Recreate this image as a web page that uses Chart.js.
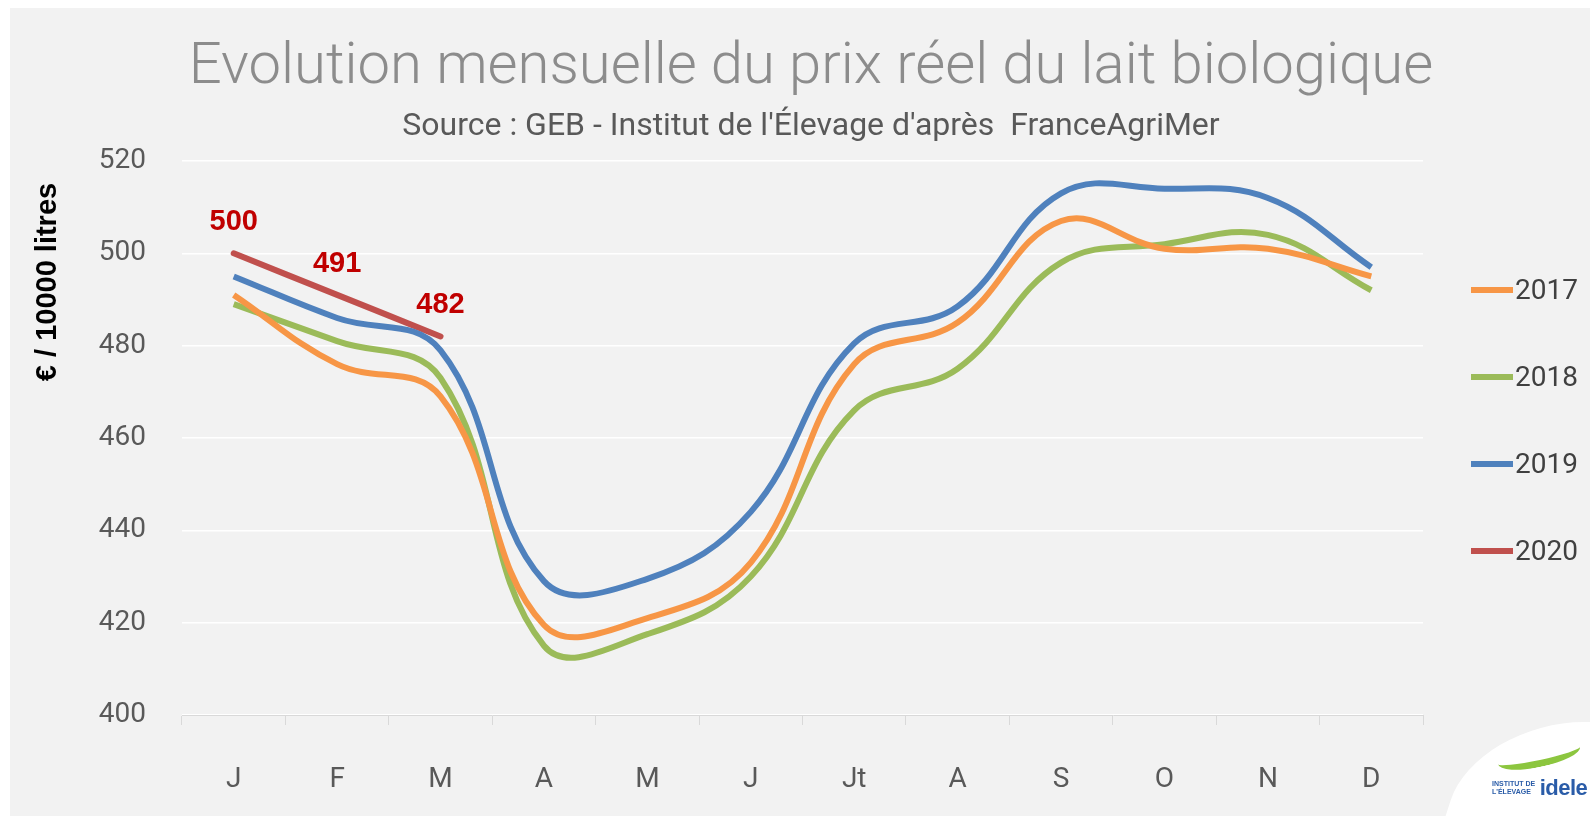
<!DOCTYPE html>
<html lang="fr">
<head>
<meta charset="utf-8">
<title>Evolution mensuelle du prix réel du lait biologique</title>
<script src="https://cdn.jsdelivr.net/npm/chart.js@4/dist/chart.umd.min.js"></script>
<style>
    html, body { margin: 0; padding: 0; background: #ffffff; }
    body { width: 1590px; height: 829px; position: relative; overflow: hidden; font-family: Roboto, "Noto Sans", sans-serif; }
    .panel { position: absolute; left: 10px; top: 8px; width: 1580px; height: 808px; background: #f2f2f2; }
    #chart { position: absolute; left: 0; top: 0; }
    .legend { position: absolute; left: 1471px; top: 274px; margin: 0; padding: 0; list-style: none; }
    .legend li { height: 87px; display: flex; align-items: flex-start; font-size: 28px; color: #404040; line-height: 32px; }
    .legend span.mark { display: inline-block; width: 42px; height: 6px; margin-top: 13px; margin-right: 2px; }
    .logo { position: absolute; left: 1455px; top: 722px; width: 180px; height: 130px; background: #ffffff; border-radius: 60% 0 0 0; transform: skewX(-18deg); }
    .logo-text { position: absolute; left: 1492px; top: 775px; font-family: "Liberation Sans", Arial, sans-serif; color: #2a5ca8; white-space: nowrap; }
    .logo-text .small { font-size: 7px; font-weight: bold; line-height: 8px; display: inline-block; vertical-align: middle; }
    .logo-text .big { font-size: 22px; font-weight: bold; vertical-align: middle; letter-spacing: -0.5px; }
    .swoosh { position: absolute; left: 1497px; top: 744px; width: 84px; height: 16px; border-radius: 50%; border-bottom: 7px solid #8cc63f; transform: rotate(-12deg); }
</style>
</head>
<body>
<div class="panel">
    <canvas id="chart" width="1580" height="808"></canvas>
</div>
<ul class="legend" id="legend"></ul>
<div class="logo"></div>
<div class="swoosh"></div>
<div class="logo-text"><span class="small">INSTITUT DE<br>L'ÉLEVAGE</span> <span class="big">idele</span></div>

<script>
// Données (€ / 10000 litres)
const months = ['J', 'F', 'M', 'A', 'M', 'J', 'Jt', 'A', 'S', 'O', 'N', 'D'];
const prix2017 = [491, 476, 469, 419.5, 421, 433, 476, 485, 507, 501, 501, 495];
const prix2018 = [489, 481, 473, 415, 417.5, 430, 466, 475, 498, 502, 504, 492];
const prix2019 = [495, 486, 479, 429, 429.5, 444, 480.5, 488.5, 513, 514, 512, 497];
const prix2020 = [500, 491, 482];

const yTicks = [400, 420, 440, 460, 480, 500, 520];
const yTitle = '€ / 10000 litres';

// Étiquettes de valeurs pour la série 2020
const valueLabels = {
    id: 'valueLabels',
    afterDatasetsDraw(chart) {
        const ctx = chart.ctx;
        const meta = chart.getDatasetMeta(3);
        ctx.save();
        ctx.font = 'bold 29px "Liberation Sans", Arial, sans-serif';
        ctx.fillStyle = '#c00000';
        ctx.textAlign = 'center';
        ctx.textBaseline = 'middle';
        meta.data.forEach((pt, i) => {
            ctx.fillText(String(prix2020[i]), pt.x, pt.y - 31);
        });
        ctx.restore();
    }
};

// Titre de l'axe vertical (placé vers le haut comme dans l'original)
const axisTitle = {
    id: 'axisTitle',
    afterDraw(chart) {
        const ctx = chart.ctx;
        ctx.save();
        ctx.translate(38, 274);
        ctx.rotate(-Math.PI / 2);
        ctx.font = 'bold 29px "Liberation Sans", Arial, sans-serif';
        ctx.fillStyle = '#000000';
        ctx.textAlign = 'center';
        ctx.textBaseline = 'middle';
        ctx.fillText(yTitle, 0, 0);
        ctx.restore();
    }
};

const ctx = document.getElementById('chart');

const chart = new Chart(ctx, {
    type: 'line',
    data: {
        labels: months,
        datasets: [
            { label: '2017', data: prix2017, borderColor: '#f79646' },
            { label: '2018', data: prix2018, borderColor: '#9bbb59' },
            { label: '2019', data: prix2019, borderColor: '#4f81bd' },
            { label: '2020', data: prix2020, borderColor: '#c0504d', borderCapStyle: 'round' }
        ]
    },
    options: {
        responsive: false,
        animation: false,
        layout: { padding: { top: 0, right: 0, bottom: 0, left: 22 } },
        elements: {
            line: { borderWidth: 6, tension: 0.4, fill: false },
            point: { radius: 0, hoverRadius: 0 }
        },
        plugins: {
            legend: { display: false },
            tooltip: { enabled: false },
            title: {
                display: true,
                text: 'Evolution mensuelle du prix réel du lait biologique',
                color: '#8c8c8c',
                font: { family: 'Roboto', size: 58, weight: '300' },
                padding: { top: 26, bottom: 4 }
            },
            subtitle: {
                display: true,
                text: "Source : GEB - Institut de l'Élevage d'après  FranceAgriMer",
                color: '#595959',
                font: { family: 'Roboto', size: 32, weight: '400' },
                padding: { top: 0, bottom: 15 }
            }
        },
        scales: {
            x: {
                offset: true,
                grid: {
                    offset: true,
                    drawOnChartArea: false,
                    drawTicks: true,
                    tickLength: 10,
                    color: '#d9d9d9'
                },
                border: { color: '#d9d9d9', width: 1 },
                ticks: {
                    color: '#595959',
                    font: { family: 'Roboto', size: 28 },
                    padding: 38,
                    maxRotation: 0
                },
                afterFit(scale) { scale.height = 101; }
            },
            y: {
                min: 400,
                max: 520,
                afterBuildTicks(scale) {
                    scale.ticks = yTicks.map(v => ({ value: v }));
                },
                grid: { color: '#ffffff', lineWidth: 1.5, drawTicks: false },
                border: { display: false },
                ticks: {
                    color: '#595959',
                    font: { family: 'Roboto', size: 28 },
                    padding: 36
                },
                afterFit(scale) { scale.width = 150; }
            },
            // axe vide à droite : réserve la place de la légende
            legendSpace: {
                type: 'linear',
                position: 'right',
                grid: { display: false },
                border: { display: false },
                ticks: { display: false },
                afterFit(scale) { scale.width = 167; }
            }
        }
    },
    plugins: [valueLabels, axisTitle]
});

// Légende HTML construite à partir des séries
const legendEl = document.getElementById('legend');
chart.data.datasets.forEach(ds => {
    const li = document.createElement('li');
    const mark = document.createElement('span');
    mark.className = 'mark';
    mark.style.background = ds.borderColor;
    li.appendChild(mark);
    li.appendChild(document.createTextNode(ds.label));
    legendEl.appendChild(li);
});
</script>
</body>
</html>
